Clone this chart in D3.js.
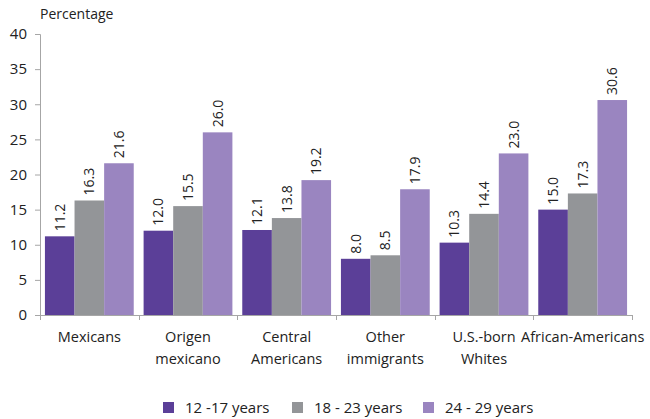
<!DOCTYPE html>
<html>
<head>
<meta charset="utf-8">
<script src="https://cdn.jsdelivr.net/npm/d3@7"></script>
<style>
  html, body { margin: 0; padding: 0; background: #fff; }
  svg text { font-family: "Open Sans", "Noto Sans", sans-serif; fill: #222; }
</style>
</head>
<body>
<svg id="chart" width="650" height="419"></svg>
<script>
// Groups along the x axis (line breaks marked with "\n")
const categories = ["Mexicans", "Origen\nmexicano", "Central\nAmericans", "Other\nimmigrants", "U.S.-born\nWhites", "African-Americans"];
const seriesNames = ["12 -17 years", "18 - 23 years", "24 - 29 years"];
const age12to17 = [11.2, 12.0, 12.1, 8.0, 10.3, 15.0];
const age18to23 = [16.3, 15.5, 13.8, 8.5, 14.4, 17.3];
const age24to29 = [21.6, 26.0, 19.2, 17.9, 23.0, 30.6];
const yTicks = [0, 5, 10, 15, 20, 25, 30, 35, 40];
const colors = ["#5b3f98", "#939598", "#9a85c0"];

const series = [age12to17, age18to23, age24to29];
const svg = d3.select("#chart");
const plotLeft = 40, plotRight = 632, plotTop = 34, plotBottom = 315;
const axisColor = "#a6a6a6";

const x0 = d3.scaleBand().domain(categories).range([plotLeft, plotRight]).paddingInner(0.1).paddingOuter(0.05);
const x1 = d3.scaleBand().domain(d3.range(series.length)).range([0, x0.bandwidth()]);
const y = d3.scaleLinear().domain([0, 40]).range([plotBottom, plotTop]);

// Bars with rotated value labels
categories.forEach((c, i) => {
  const g = svg.append("g").attr("transform", `translate(${x0(c)},0)`);
  series.forEach((s, k) => {
    g.append("rect")
      .attr("x", x1(k)).attr("width", x1.bandwidth())
      .attr("y", y(s[i])).attr("height", y(0) - y(s[i]))
      .attr("fill", colors[k]);
    g.append("text")
      .attr("transform", `translate(${x1(k) + x1.bandwidth() / 2 + 5},${y(s[i]) - 5}) rotate(-90)`)
      .attr("font-size", 14)
      .text(s[i].toFixed(1));
  });
});

// Y axis
const yAxis = svg.append("g").attr("transform", `translate(${plotLeft},0)`)
  .call(d3.axisLeft(y).tickValues(yTicks).tickSize(5).tickPadding(8));
yAxis.selectAll("path, line").attr("stroke", axisColor);
yAxis.selectAll("text").attr("font-size", 15).attr("fill", "#222")
  .style("font-family", "'Open Sans', 'Noto Sans', sans-serif");

// X axis line with boundary ticks between groups
const step = (plotRight - plotLeft) / categories.length;
svg.append("line").attr("x1", plotLeft).attr("x2", plotRight).attr("y1", plotBottom + 0.5).attr("y2", plotBottom + 0.5)
  .attr("stroke", axisColor);
d3.range(categories.length + 1).forEach(i => {
  const xx = Math.round(plotLeft + i * step) + 0.5;
  svg.append("line").attr("x1", xx).attr("x2", xx).attr("y1", plotBottom).attr("y2", plotBottom + 5)
    .attr("stroke", axisColor);
});

// Category labels
categories.forEach(c => {
  const t = svg.append("text").attr("text-anchor", "middle").attr("font-size", 14.5)
    .attr("x", x0(c) + x0.bandwidth() / 2).attr("y", 342);
  c.split("\n").forEach((line, j) => {
    t.append("tspan").attr("x", x0(c) + x0.bandwidth() / 2).attr("dy", j ? 22 : 0).text(line);
  });
});

// Axis title
svg.append("text").attr("x", 40).attr("y", 19).attr("font-size", 14).text("Percentage");

// Legend
const legendX = [163, 292, 423];
seriesNames.forEach((n, k) => {
  svg.append("rect").attr("x", legendX[k]).attr("y", 402).attr("width", 11).attr("height", 11).attr("fill", colors[k]);
  svg.append("text").attr("x", legendX[k] + 22).attr("y", 413).attr("font-size", 15).text(n);
});
</script>
</body>
</html>
